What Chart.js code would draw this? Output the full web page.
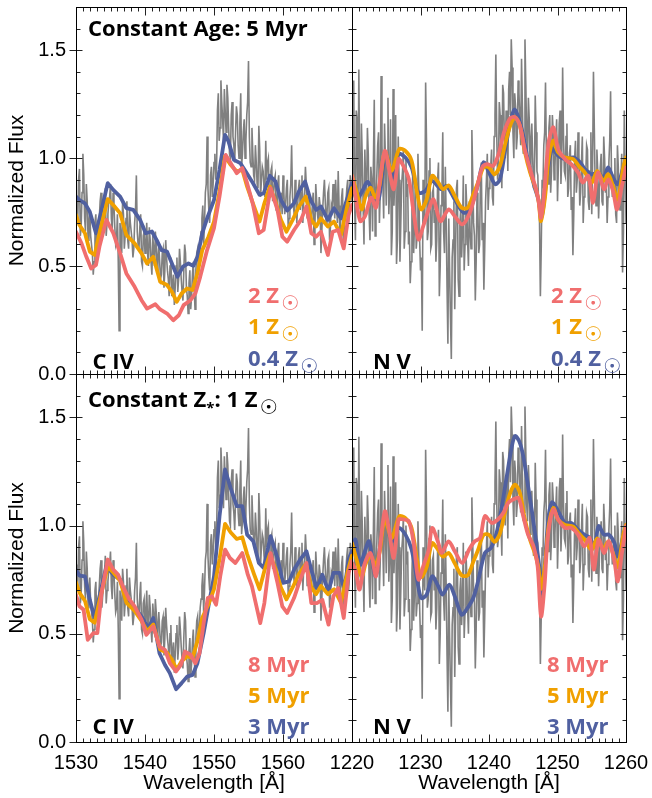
<!DOCTYPE html>
<html><head><meta charset="utf-8">
<script src="https://cdn.jsdelivr.net/npm/chart.js@4.4.1/dist/chart.umd.min.js"></script>
<style>
html,body{margin:0;padding:0;background:#fff;}
#wrap{position:relative;width:652px;height:798px;overflow:hidden;background:#fff;}
canvas{position:absolute;left:0;top:0;}
.t{position:absolute;font-family:'Open Sans';font-weight:700;font-size:22px;line-height:22px;white-space:nowrap;color:#000;}
.sun{font-family:'DejaVu Sans';font-weight:400;font-size:20px;position:relative;top:7px;margin-left:2px;}
.ast{font-size:15px;position:relative;top:6px;}
.red{color:rgb(240,110,110);} .org{color:rgb(240,160,0);} .blu{color:rgb(80,96,160);}
</style></head><body>
<div id="wrap">
<canvas id="c1" width="652" height="798"></canvas>
<canvas id="c2" width="652" height="798"></canvas>
<canvas id="c3" width="652" height="798"></canvas>
<canvas id="c4" width="652" height="798"></canvas>
<div class="t" style="left:88px;top:15.5px">Constant Age: 5 Myr</div>
<div class="t" style="left:92.5px;top:348.5px">C IV</div>
<div class="t" style="left:373px;top:348.5px">N V</div>
<div class="t red" style="left:248px;top:283px">2 Z<span class="sun">☉</span></div>
<div class="t org" style="left:248px;top:314px">1 Z<span class="sun">☉</span></div>
<div class="t blu" style="left:248px;top:346px">0.4 Z<span class="sun">☉</span></div>
<div class="t red" style="left:551px;top:283px">2 Z<span class="sun">☉</span></div>
<div class="t org" style="left:551px;top:314px">1 Z<span class="sun">☉</span></div>
<div class="t blu" style="left:551px;top:346px">0.4 Z<span class="sun">☉</span></div>
<div class="t" style="left:88px;top:386.5px">Constant Z<span class="ast">*</span>: 1 Z<span class="sun">☉</span></div>
<div class="t" style="left:92.5px;top:714px">C IV</div>
<div class="t" style="left:373px;top:714px">N V</div>
<div class="t red" style="left:248px;top:651.5px">8 Myr</div>
<div class="t org" style="left:248px;top:683px">5 Myr</div>
<div class="t blu" style="left:248px;top:713.5px">3 Myr</div>
<div class="t red" style="left:547px;top:651.5px">8 Myr</div>
<div class="t org" style="left:547px;top:683px">5 Myr</div>
<div class="t blu" style="left:547px;top:713.5px">3 Myr</div>
</div>
<script>
// ---------- DATA ----------
const civStart = 1530, nvStart = 1220, specStep = 0.25;
const yTickValues = [0, 0.5, 1.0, 1.5];
const civTickValues = [1530, 1540, 1550, 1560];
const nvTickValues = [1220, 1230, 1240, 1250, 1260];

// observed spectrum (gray), C IV region: values at 1530 + 0.25*i
const civFlux = [
0.82,0.70,0.95,0.68,1.02, 0.72,0.88,0.62,0.76, 0.60,0.46,0.70,0.58, 0.66,0.80,0.62,0.72,
0.86,0.70,0.80,0.88, 0.66,0.78,0.60,0.74, 0.20,0.64,0.80,0.58, 0.72,0.62,0.76,0.66,
0.54,0.70,0.92,0.60, 0.68,0.52,0.64,0.56, 0.70,0.50,0.62,0.46, 0.58,0.66,0.48,0.60,
0.44,0.56,0.40,0.62, 0.48,0.36,0.54,0.42, 0.32,0.50,0.38,0.58, 0.44,0.34,0.60,0.40,
0.28,0.48,0.36,0.52, 0.30,0.56,0.46,0.62, 0.72,0.60,0.84,1.10, 0.76,0.92,0.82,0.98,
0.90,1.22,1.08,1.36, 1.18,1.32,1.12,1.28, 1.02,1.20,1.10,0.98, 1.24,1.06,1.16,0.96,
1.12,1.00,1.20,1.45, 0.98,1.14,0.92,1.06, 0.88,1.15,0.82,0.96, 0.86,1.08,0.98,0.84,
0.94,0.80,0.90,0.76, 0.88,0.72,0.84,0.92, 0.74,0.86,0.68,0.82, 1.06,0.78,0.90,0.70,
0.86,0.76,0.92,0.80, 0.96,0.72,0.84,0.66, 0.78,0.60,0.88,0.74, 0.82,0.56,0.76,0.90,
0.70,0.84,0.62,0.78, 0.88,0.72,0.80,0.94, 0.64,0.82,0.58,0.76, 0.86,0.70,0.92,0.80];
// C IV region: values at 1530.125 + 0.25*i
const civFluxMid = [
0.76,0.90,0.64,0.84, 0.92,0.66,0.80,0.70, 0.64,0.56,0.52,0.74, 0.60,0.72,0.84,0.68,
0.78,0.64,0.74,0.82, 0.72,0.84,0.68,0.62, 0.52,0.70,0.56,0.74, 0.64,0.80,0.58,0.70,
0.62,0.58,0.76,0.66, 0.58,0.74,0.50,0.66, 0.60,0.56,0.68,0.52, 0.64,0.50,0.60,0.54,
0.52,0.46,0.58,0.48, 0.54,0.44,0.50,0.36, 0.46,0.40,0.54,0.44, 0.52,0.38,0.48,0.56,
0.36,0.42,0.30,0.46, 0.40,0.48,0.58,0.52, 0.66,0.78,0.70,0.88, 0.86,0.70,0.96,0.88,
1.02,0.96,1.30,1.14, 1.26,1.08,1.22,1.34, 1.14,1.00,1.26,1.06, 1.12,1.20,1.00,1.30,
1.02,1.18,1.08,1.26, 1.10,0.96,1.02,0.90, 0.98,0.86,1.04,0.90, 0.94,0.82,0.90,1.00,
0.86,0.96,0.84,0.92, 0.78,0.92,0.80,0.74, 0.84,0.78,0.90,0.72, 0.88,0.82,0.74,0.84,
0.78,0.90,0.84,0.70, 0.84,0.88,0.76,0.80, 0.72,0.84,0.68,0.80, 0.70,0.78,0.66,0.84,
0.80,0.74,0.86,0.68, 0.76,0.82,0.90,0.70, 0.78,0.72,0.86,0.68, 0.80,0.90,0.76,0.88];

// observed spectrum (gray), N V region: values at 1220 + 0.25*i
const nvFlux = [
0.90,1.36,0.62,1.18,1.41, 0.70,1.00,0.60,0.88, 1.14,0.74,0.96,0.66, 1.27,0.80,1.06,0.70,
1.38,0.90,1.16,0.78, 1.28,0.86,0.55,1.32, 0.92,0.51,1.10,0.52, 0.88,1.04,0.66,0.82,
0.60,0.42,0.78,0.56, 0.92,0.64,0.86,0.48, 0.20,0.76,1.35,0.62, 0.94,0.58,0.84,0.70,
0.52,0.90,0.36,0.78, 1.12,0.56,0.72,0.14, 0.48,0.07,0.62,0.30, 0.86,0.44,0.70,0.54,
0.92,0.60,0.78,0.50, 0.66,1.13,0.70,0.34, 0.84,0.56,0.90,0.62, 0.39,0.80,1.02,0.86,
0.96,0.82,1.10,1.48, 0.90,1.26,1.00,1.34, 1.08,1.22,0.94,1.40, 1.55,1.12,1.30,1.04,
1.36,1.18,1.46,1.02, 1.55,1.10,1.28,0.96, 1.16,0.86,1.29,0.94, 0.78,0.36,0.90,1.06,
1.35,0.92,1.14,0.84, 1.20,0.90,1.08,0.80, 1.16,0.88,1.42,0.94, 1.10,0.82,1.02,0.76,
0.55,1.00,0.84,1.12, 0.78,0.98,0.70,0.90, 1.06,0.80,0.94,0.74, 1.40,0.86,1.04,0.72,
0.96,0.80,1.10,0.84, 0.70,0.98,1.31,0.82, 0.92,0.74,1.06,0.78, 0.88,0.47,1.22,0.70];
// N V region: values at 1220.125 + 0.25*i
const nvFluxMid = [
1.10,0.80,1.22,0.74, 0.94,1.16,0.78,1.04, 0.82,1.02,0.62,0.90, 0.98,0.64,0.92,1.12,
0.84,1.06,0.72,1.00, 1.02,0.74,1.18,0.66, 0.78,1.20,0.62,0.90, 0.70,0.94,0.58,1.00,
0.88,0.66,0.52,0.94, 0.70,0.58,1.02,0.62, 0.54,0.90,0.70,1.08, 0.66,1.00,0.60,0.86,
0.76,0.62,0.98,0.50, 0.84,0.66,0.96,0.40, 0.72,0.26,0.54,0.80, 0.58,0.90,0.36,0.76,
0.66,0.48,0.88,0.62, 0.80,0.58,0.92,0.64, 0.52,0.76,0.60,0.98, 0.70,0.58,0.90,0.76,
0.88,1.04,0.78,1.20, 1.12,0.94,1.20,0.86, 1.30,1.00,1.16,1.32, 1.20,1.42,1.00,1.24,
1.10,1.30,1.06,1.24, 1.06,1.34,1.02,1.18, 1.08,1.00,0.90,1.12, 0.92,0.70,0.58,0.86,
1.12,1.02,0.88,1.20, 0.94,1.12,0.96,1.18, 0.96,1.22,1.00,1.10, 0.92,1.16,0.86,1.06,
0.82,0.74,1.08,0.90, 1.02,0.84,1.10,0.82, 0.92,1.04,0.76,1.12, 0.98,1.14,0.78,0.94,
0.86,1.02,0.78,1.00, 0.90,0.82,1.08,0.94, 0.86,1.00,0.70,0.96, 0.76,1.02,0.66,0.94];

// models [wavelength, flux]
const civZ2 = [[1530,0.659],[1530.8,0.605],[1531.5,0.543],[1532.2,0.489],[1532.9,0.505],[1533.4,0.59],[1534.4,0.714],[1535.4,0.652],[1536.4,0.559],[1537.3,0.466],[1538.5,0.404],[1539.5,0.342],[1540.3,0.303],[1541.5,0.323],[1542.2,0.299],[1543.2,0.28],[1544.1,0.249],[1544.9,0.272],[1545.6,0.319],[1546.6,0.342],[1547.3,0.373],[1548,0.45],[1549,0.574],[1550,0.675],[1550.8,0.822],[1551.7,1.015],[1552.4,0.977],[1553.3,0.93],[1554.1,0.954],[1554.8,0.884],[1555.6,0.791],[1556.5,0.652],[1557.2,0.667],[1558.2,0.861],[1559.2,0.76],[1559.9,0.636],[1560.6,0.613],[1561.6,0.667],[1562.6,0.714],[1563.4,0.776],[1564.1,0.652],[1564.8,0.636],[1565.5,0.659],[1566.5,0.551],[1567.2,0.659],[1568,0.667],[1568.8,0.582],[1569.5,0.737],[1570,0.783]];
const civZ1 = [[1530,0.737],[1530.5,0.69],[1531.3,0.652],[1532,0.567],[1532.7,0.551],[1533.4,0.652],[1534.6,0.81],[1535.4,0.783],[1536.4,0.745],[1537.3,0.644],[1538.5,0.605],[1539.5,0.559],[1540.3,0.512],[1541.2,0.543],[1542.2,0.427],[1543.2,0.412],[1543.9,0.381],[1544.6,0.334],[1545.3,0.373],[1546.1,0.396],[1546.9,0.389],[1547.6,0.466],[1548.3,0.574],[1549.2,0.636],[1550,0.706],[1550.8,0.845],[1551.6,1.008],[1552.4,0.969],[1553.3,0.938],[1554.1,0.946],[1554.8,0.868],[1555.8,0.776],[1556.6,0.706],[1557.3,0.791],[1558.1,0.868],[1558.9,0.799],[1559.7,0.714],[1560.5,0.659],[1561.4,0.714],[1562.3,0.776],[1563.3,0.822],[1564.1,0.714],[1564.8,0.683],[1565.5,0.721],[1566.5,0.683],[1567.4,0.706],[1568.4,0.644],[1569.4,0.791],[1570,0.861]];
const civZ04 = [[1530,0.822],[1530.5,0.806],[1531.3,0.79],[1532,0.752],[1532.9,0.652],[1533.7,0.76],[1534.6,0.884],[1535.4,0.853],[1536.4,0.822],[1537.3,0.768],[1538.3,0.76],[1539.3,0.714],[1540.1,0.652],[1541,0.66],[1541.7,0.62],[1542.4,0.574],[1543.2,0.567],[1543.9,0.512],[1544.7,0.45],[1545.5,0.497],[1546.3,0.512],[1547,0.501],[1547.6,0.543],[1548.3,0.652],[1549,0.721],[1550,0.806],[1550.8,0.946],[1551.6,1.108],[1552.1,1.077],[1552.9,0.992],[1553.8,0.977],[1554.6,0.938],[1555.5,0.892],[1556.6,0.83],[1557.2,0.837],[1558.1,0.918],[1558.9,0.892],[1559.7,0.806],[1560.6,0.757],[1561.6,0.791],[1562.3,0.845],[1563.2,0.892],[1564,0.806],[1564.8,0.76],[1565.5,0.776],[1566.5,0.714],[1567.4,0.768],[1568.4,0.721],[1569.4,0.822],[1570,0.884]];
const civ8Myr = [[1530,0.68],[1530.5,0.627],[1531.1,0.611],[1531.7,0.472],[1532.5,0.503],[1533.1,0.503],[1533.7,0.688],[1534.6,0.843],[1535.4,0.796],[1536.1,0.773],[1536.8,0.719],[1537.6,0.665],[1538.5,0.627],[1539.5,0.565],[1540.2,0.495],[1541.2,0.534],[1542.1,0.441],[1542.9,0.426],[1543.6,0.364],[1544.5,0.326],[1545.2,0.356],[1545.8,0.418],[1546.6,0.403],[1547.3,0.364],[1547.9,0.41],[1548.5,0.549],[1549.1,0.665],[1549.7,0.673],[1550.3,0.634],[1550.9,0.765],[1551.6,0.889],[1552.3,0.85],[1553.1,0.827],[1554.1,0.873],[1554.9,0.773],[1555.5,0.719],[1556.7,0.549],[1557.3,0.642],[1558.2,0.873],[1559.2,0.735],[1559.9,0.627],[1560.6,0.596],[1561.6,0.665],[1562.5,0.75],[1563.4,0.827],[1564.1,0.642],[1564.9,0.642],[1565.7,0.657],[1566.6,0.542],[1567.3,0.673],[1568,0.711],[1568.8,0.573],[1569.5,0.781],[1570,0.835]];
const civ3Myr = [[1530,0.796],[1530.5,0.769],[1531.3,0.765],[1532,0.657],[1532.7,0.573],[1533.4,0.673],[1534.4,0.812],[1535.4,0.773],[1536.4,0.75],[1537.3,0.665],[1538.5,0.619],[1539.5,0.58],[1540.5,0.526],[1541.2,0.573],[1542.1,0.41],[1542.9,0.356],[1543.6,0.318],[1544.5,0.244],[1545.3,0.272],[1546.1,0.302],[1546.9,0.31],[1547.6,0.364],[1548.5,0.503],[1549.2,0.627],[1550,0.765],[1550.8,1.043],[1551.6,1.259],[1552.4,1.174],[1553.3,1.09],[1554.1,1.09],[1554.8,0.958],[1555.7,0.927],[1556.5,0.827],[1557.2,0.804],[1558.2,0.951],[1559.2,0.85],[1560,0.735],[1560.9,0.742],[1561.6,0.796],[1562.5,0.843],[1563.4,0.881],[1564.1,0.796],[1564.9,0.711],[1565.7,0.773],[1566.6,0.696],[1567.3,0.781],[1568.2,0.781],[1568.9,0.704],[1569.5,0.843],[1570,0.881]];

const nvZ2 = [[1220,0.918],[1220.5,0.825],[1221.2,0.708],[1221.9,0.731],[1222.8,0.817],[1223.5,0.77],[1224.1,0.902],[1224.8,1.034],[1225.4,0.949],[1226.1,0.856],[1226.8,0.995],[1227.5,0.964],[1228.3,0.902],[1229,0.747],[1229.7,0.623],[1230.4,0.685],[1231.2,0.762],[1231.9,0.809],[1232.9,0.708],[1234.1,0.762],[1235,0.731],[1236.1,0.693],[1237.2,0.747],[1238.2,0.856],[1239,0.957],[1239.7,0.972],[1240.6,0.964],[1241.4,1.019],[1242.2,1.12],[1243.1,1.185],[1243.8,1.189],[1244.5,1.151],[1245.2,1.042],[1246,0.949],[1246.8,0.863],[1247.2,0.809],[1247.6,0.724],[1248.1,0.856],[1248.7,1.073],[1249.4,1.143],[1250.1,1.042],[1251.1,0.995],[1252,0.972],[1253,0.933],[1253.7,0.887],[1254.5,0.918],[1255.2,0.793],[1255.9,0.933],[1256.8,0.856],[1257.4,0.902],[1258.1,0.848],[1258.7,0.762],[1259.4,0.871],[1260,0.957]];
const nvZ1 = [[1220,0.918],[1220.7,0.84],[1221.4,0.762],[1222,0.825],[1222.7,0.863],[1223.4,0.817],[1224,0.871],[1224.8,1.03],[1225.8,0.941],[1226.9,1.042],[1227.8,1.034],[1228.7,0.988],[1229.5,0.84],[1230.1,0.762],[1230.9,0.809],[1231.7,0.918],[1232.6,0.887],[1233.3,0.856],[1234.1,0.874],[1235,0.825],[1236,0.77],[1236.9,0.77],[1237.7,0.832],[1238.4,0.887],[1239.2,0.957],[1240,0.957],[1240.8,0.925],[1241.6,0.964],[1242.3,1.057],[1243.1,1.151],[1243.8,1.189],[1244.5,1.151],[1245.2,1.034],[1246,0.933],[1246.7,0.871],[1247.2,0.809],[1247.6,0.708],[1248.2,0.825],[1248.7,0.995],[1249.4,1.081],[1250.1,1.026],[1251.1,1.003],[1252.3,0.995],[1253.1,0.964],[1254,0.933],[1255,0.887],[1255.8,0.941],[1256.7,0.894],[1257.4,0.925],[1258.1,0.871],[1258.8,0.809],[1259.6,0.957],[1260,1.003]];
const nvZ04 = [[1220,0.887],[1220.7,0.809],[1221.5,0.848],[1222.3,0.89],[1223.2,0.825],[1223.9,0.809],[1224.9,1.019],[1226,0.91],[1226.8,1.019],[1227.8,1.003],[1228.7,0.957],[1229.7,0.84],[1230.7,0.848],[1231.7,0.894],[1233,0.856],[1233.8,0.871],[1235,0.809],[1236.3,0.747],[1237.2,0.762],[1238.2,0.856],[1239.2,0.98],[1240,0.933],[1240.9,0.879],[1241.6,0.902],[1242.3,1.026],[1243.1,1.166],[1243.7,1.225],[1244.3,1.189],[1245,1.104],[1245.7,0.988],[1246.6,0.871],[1247.2,0.809],[1247.7,0.731],[1248.4,0.902],[1249.2,1.042],[1250.1,1.011],[1251.1,0.995],[1252.3,1.003],[1253.3,0.98],[1254,0.949],[1255,0.925],[1255.9,0.933],[1256.7,0.91],[1257.4,0.957],[1258.1,0.91],[1258.8,0.879],[1259.6,0.957],[1260,0.995]];
const nv8Myr = [[1220,0.827],[1220.5,0.796],[1221.1,0.704],[1221.8,0.819],[1222.7,0.873],[1223.5,0.765],[1224.1,0.904],[1224.8,1.066],[1225.4,0.981],[1226.1,0.85],[1226.8,1.028],[1227.5,1.028],[1228.3,1.02],[1229,0.92],[1229.7,0.75],[1230.4,0.812],[1231.2,0.889],[1231.7,0.989],[1232.6,0.92],[1233.1,0.873],[1234.1,0.927],[1235,0.881],[1236.1,0.827],[1237.1,0.889],[1237.9,0.927],[1238.7,0.943],[1239.4,1.043],[1240.4,1.012],[1241.3,1.028],[1242.1,1.059],[1242.8,1.105],[1243.5,1.12],[1244.3,1.128],[1245,1.043],[1245.7,0.958],[1246.5,0.904],[1247.1,0.812],[1247.6,0.58],[1248.1,0.719],[1248.6,0.951],[1249.4,1.074],[1250.1,1.028],[1251.1,0.989],[1252,0.989],[1253,0.958],[1253.9,0.904],[1254.7,0.943],[1255.3,0.796],[1256,0.935],[1256.8,0.873],[1257.5,0.927],[1258.3,0.835],[1258.8,0.742],[1259.4,0.873],[1260,0.997]];
const nv3Myr = [[1220,0.889],[1220.5,0.935],[1221.2,0.819],[1221.8,0.873],[1222.5,0.927],[1223.4,0.765],[1224.1,0.904],[1224.9,1.043],[1225.8,0.927],[1226.8,0.989],[1227.8,0.958],[1228.7,0.889],[1229.5,0.75],[1230.1,0.665],[1230.9,0.681],[1231.7,0.765],[1232.6,0.719],[1233.2,0.681],[1234.2,0.727],[1235,0.673],[1236,0.588],[1236.7,0.611],[1237.7,0.665],[1238.4,0.742],[1239.4,0.873],[1240.3,0.897],[1241.1,0.966],[1241.8,1.074],[1242.6,1.228],[1243.3,1.36],[1243.8,1.414],[1244.4,1.39],[1245,1.321],[1245.7,1.182],[1246.3,1.059],[1246.9,0.92],[1247.4,0.796],[1247.8,0.688],[1248.3,0.889],[1248.7,1.043],[1249.2,1.108],[1250.1,1.066],[1251.1,1.012],[1252,1.012],[1253,0.981],[1253.9,0.958],[1254.7,0.943],[1255.4,0.904],[1256,0.997],[1256.8,0.958],[1257.5,0.958],[1258.3,0.92],[1258.8,0.858],[1259.6,0.951],[1260,0.997]];

// ---------- RENDER ----------
const RED = 'rgb(240,110,110)', ORG = 'rgb(240,160,0)', BLU = 'rgb(80,96,160)', GRY = 'rgb(128,128,128)';
const toXY = p => p.map(d => ({x: d[0], y: d[1]}));
function specXY(start, main, mid) {
  const out = [];
  main.forEach((v, i) => {
    out.push({x: start + i * specStep, y: v});
    if (i < mid.length) out.push({x: start + i * specStep + specStep / 2, y: mid[i]});
  });
  return out;
}

const framePlugin = {
  id: 'frame',
  afterDatasetsDraw(chart, args, opts) {
    const {ctx, chartArea: a, scales: {x, y}} = chart;
    const L = Math.round(a.left) + 0.5, R = Math.round(a.right) + 0.5;
    const T = Math.round(a.top) + 0.5, B = Math.round(a.bottom) + 0.5;
    ctx.save();
    ctx.strokeStyle = '#222'; ctx.lineWidth = 1;
    ctx.beginPath();
    for (let i = 0; i <= 40; i++) {
      const px = Math.round(x.getPixelForValue(x.min + i)) + 0.5;
      const len = (i % 10 === 0) ? 8 : 4;
      ctx.moveTo(px, B); ctx.lineTo(px, B - len);
      ctx.moveTo(px, T); ctx.lineTo(px, T + len);
    }
    for (let j = 0; j <= 17; j++) {
      const py = Math.round(y.getPixelForValue(j / 10)) + 0.5;
      const major = (j % 5 === 0);
      const len = major ? 6 : 4;
      ctx.moveTo(L, py); ctx.lineTo(L + len, py);
      ctx.moveTo(R, py); ctx.lineTo(R - len, py);
      if (opts.outer && major) { ctx.moveTo(L, py); ctx.lineTo(L - 7, py); }
    }
    ctx.stroke();
    ctx.strokeStyle = '#000';
    ctx.strokeRect(L, T, R - L, B - T);
    ctx.restore();
  }
};

function panel(id, o) {
  const tickFont = {family: 'Liberation Sans', size: 20};
  const titleFont = {family: 'Liberation Sans', size: 21};
  const lineDs = (data, color, tension) => ({data: toXY(data), borderColor: color, borderWidth: 3.8, tension: tension, borderJoinStyle: 'round', borderCapStyle: 'round', pointRadius: 0, fill: false});
  new Chart(document.getElementById(id), {
    type: 'line',
    data: {datasets: [
      lineDs(o.models[0], RED, o.tension),
      lineDs(o.models[1], ORG, o.tension),
      lineDs(o.models[2], BLU, o.tension),
      {data: specXY(o.start, o.spec, o.specMid), borderColor: GRY, borderWidth: 1.6, pointRadius: 0, tension: 0, fill: false}
    ]},
    options: {
      responsive: false, animation: false, devicePixelRatio: 1, events: [],
      layout: {padding: o.pad},
      plugins: {legend: {display: false}, tooltip: {enabled: false}, frame: {outer: o.showY}},
      scales: {
        x: {
          type: 'linear', min: o.start, max: o.start + 40, display: o.showX,
          grid: {display: false, drawTicks: false}, border: {display: false},
          ticks: {padding: 9, color: '#000', font: tickFont, autoSkip: false, maxRotation: 0, callback: v => String(v)},
          afterBuildTicks: s => { s.ticks = o.xticks.map(v => ({value: v})); },
          afterFit: s => { s.height = o.showX ? 56 : 0; s.paddingLeft = 0; s.paddingRight = 0; },
          title: {display: o.showX, text: 'Wavelength [Å]', color: '#000', font: titleFont, padding: {top: 0, bottom: 2}}
        },
        y: {
          type: 'linear', min: 0, max: 1.7, display: o.showY, position: 'left',
          grid: {display: false, drawTicks: false}, border: {display: false},
          ticks: {padding: 10, color: '#000', font: tickFont, autoSkip: false, callback: v => v.toFixed(1)},
          afterBuildTicks: s => { s.ticks = yTickValues.map(v => ({value: v})); },
          afterFit: s => { s.width = o.showY ? 76 : 0; s.paddingTop = 0; s.paddingBottom = 0; },
          title: {display: o.showY, text: 'Normalized Flux', color: '#000', font: titleFont, padding: {top: 5, bottom: 0}}
        }
      }
    },
    plugins: [framePlugin]
  });
}

panel('c1', {start: civStart, spec: civFlux, specMid: civFluxMid, models: [civZ2, civZ1, civZ04], tension: 0, xticks: civTickValues, showX: false, showY: true, pad: {left: 0, right: 300, top: 7, bottom: 424}});
panel('c2', {start: nvStart, spec: nvFlux, specMid: nvFluxMid, models: [nvZ2, nvZ1, nvZ04], tension: 0.3, xticks: nvTickValues, showX: false, showY: false, pad: {left: 352, right: 26, top: 7, bottom: 424}});
panel('c3', {start: civStart, spec: civFlux, specMid: civFluxMid, models: [civ8Myr, civZ1, civ3Myr], tension: 0, xticks: civTickValues, showX: true, showY: true, pad: {left: 0, right: 300, top: 374, bottom: 0}});
panel('c4', {start: nvStart, spec: nvFlux, specMid: nvFluxMid, models: [nv8Myr, nvZ1, nv3Myr], tension: 0.3, xticks: nvTickValues, showX: true, showY: false, pad: {left: 352, right: 26, top: 374, bottom: 0}});
</script>
</body></html>
